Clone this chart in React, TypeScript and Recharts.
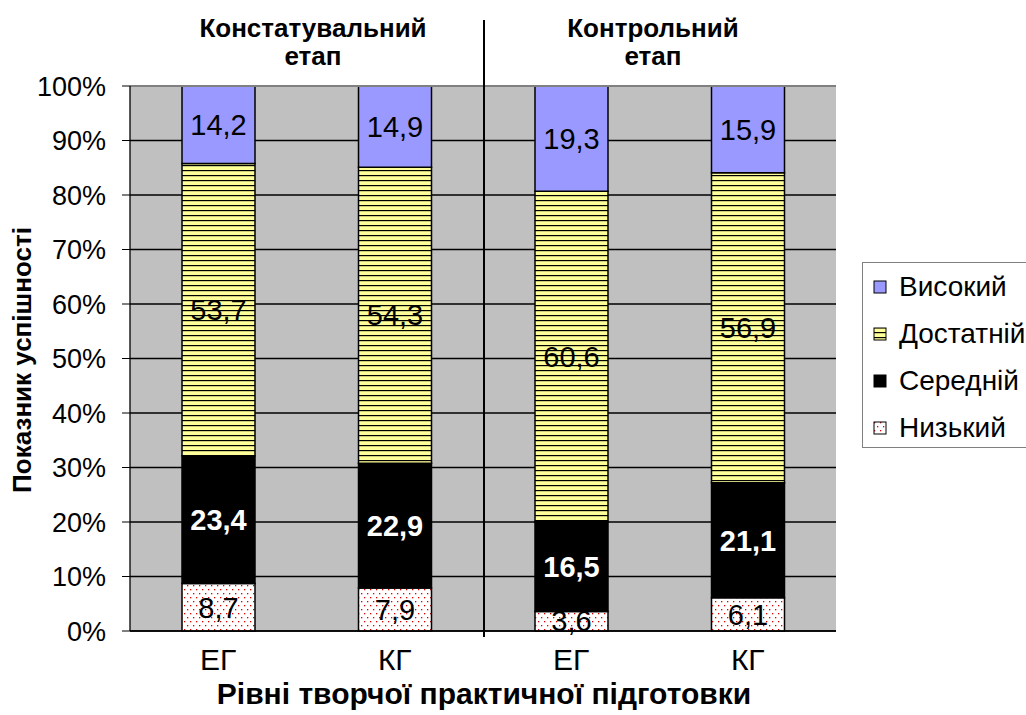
import React from 'react';
import { BarChart, Bar, XAxis, YAxis, CartesianGrid, LabelList, ReferenceLine, Legend } from 'recharts';

const categories = ['ЕГ', 'КГ', 'ЕГ', 'КГ'];
const lowValues = [8.7, 7.9, 3.6, 6.1];
const mediumValues = [23.4, 22.9, 16.5, 21.1];
const sufficientValues = [53.7, 54.3, 60.6, 56.9];
const highValues = [14.2, 14.9, 19.3, 15.9];
const yTicks = [0, 10, 20, 30, 40, 50, 60, 70, 80, 90, 100];
const boundaryTicks = [0, 1, 2, 3, 4];
const stageTitles = [
  ['Констатувальний', 'етап'],
  ['Контрольний', 'етап'],
];
const xTitle = 'Рівні творчої практичної підготовки';
const yTitle = 'Показник успішності';

const series = [
  { key: 'low', name: 'Низький', fill: 'url(#pDots)', label: '#000', bold: false },
  { key: 'medium', name: 'Середній', fill: '#000000', label: '#FFFFFF', bold: true },
  { key: 'sufficient', name: 'Достатній', fill: 'url(#pStripe)', label: '#000', bold: false },
  { key: 'high', name: 'Високий', fill: '#9999FF', label: '#000', bold: false },
];

const data = categories.map((c, i) => ({
  idx: i + 0.5,
  name: c,
  low: lowValues[i],
  medium: mediumValues[i],
  sufficient: sufficientValues[i],
  high: highValues[i],
}));

const FONT = "'Liberation Sans', Arial, sans-serif";
const NARROW = "'Liberation Sans Narrow', 'Arial Narrow', 'Liberation Sans', Arial, sans-serif";

const fmt = (v: any) => Number(v).toFixed(1).replace('.', ',');

const LegendBox = () => (
  <div
    style={{
      position: 'absolute',
      left: 862,
      top: 262,
      width: 190,
      height: 186,
      border: '1px solid #808080',
      background: '#fff',
      boxSizing: 'border-box',
      fontFamily: FONT,
      fontSize: 28,
      color: '#000',
    }}
  >
    {[...series].reverse().map((s, i) => (
      <div
        key={s.key}
        style={{ position: 'absolute', left: 10, top: 8 + i * 47, height: 32, display: 'flex', alignItems: 'center', whiteSpace: 'nowrap' }}
      >
        <svg width={14} height={14} style={{ marginRight: 12 }}>
          <rect x={1} y={1} width={12} height={12} fill={s.fill} stroke="#000" strokeWidth={1} />
        </svg>
        <span>{s.name}</span>
      </div>
    ))}
  </div>
);

export default function App() {
  return (
    <div style={{ position: 'absolute', left: 0, top: 0, width: 1026, height: 715, background: '#fff', fontFamily: FONT, overflow: 'hidden' }}>
      <svg width={0} height={0} style={{ position: 'absolute' }}>
        <defs>
          <pattern id="pStripe" width={8} height={5} patternUnits="userSpaceOnUse">
            <rect x={0} y={0} width={8} height={5} fill="#FFFF99" />
            <rect x={0} y={0} width={8} height={1.2} fill="#000" />
          </pattern>
          <pattern id="pDots" width={6} height={8} patternUnits="userSpaceOnUse">
            <rect x={0} y={0} width={6} height={8} fill="#FFFFFF" />
            <rect x={1} y={1} width={1.3} height={1.3} fill="#E00000" />
            <rect x={4} y={5} width={1.3} height={1.3} fill="#E00000" />
          </pattern>
        </defs>
      </svg>

      <BarChart
        width={1026}
        height={715}
        data={data}
        margin={{ top: 86, right: 190, left: 30, bottom: 44 }}
        barCategoryGap={0}
      >
        <CartesianGrid vertical={false} stroke="#000" strokeWidth={1.3} fill="#C0C0C0" fillOpacity={1} />
        <XAxis
          xAxisId="b"
          type="number"
          dataKey="idx"
          domain={[0, 4]}
          ticks={boundaryTicks}
          height={0}
          axisLine={false}
          tickLine={{ stroke: '#000', strokeWidth: 1 }}
          tickSize={6}
          tick={() => <g />}
          allowDataOverflow
        />
        <XAxis
          dataKey="name"
          height={40}
          tickLine={false}
          tickSize={0}
          tickMargin={18}
          axisLine={{ stroke: '#000', strokeWidth: 1.3 }}
          tick={{ fill: '#000', fontSize: 30, fontFamily: NARROW }}
          interval={0}
        />
        <YAxis
          width={100}
          domain={[0, 100]}
          ticks={yTicks}
          tickFormatter={(v: number) => `${v}%`}
          tickSize={8}
          tickMargin={16}
          axisLine={{ stroke: '#000', strokeWidth: 1.3 }}
          tickLine={{ stroke: '#000' }}
          tick={{ fill: '#000', fontSize: 27, fontFamily: FONT }}
          interval={0}
        />
        <YAxis
          yAxisId="r"
          orientation="right"
          width={0}
          domain={[0, 100]}
          tick={false}
          tickLine={false}
          axisLine={{ stroke: '#808080', strokeWidth: 2 }}
        />
        <ReferenceLine y={100} stroke="#808080" strokeWidth={2} />
        {series.map((s) => (
          <Bar
            key={s.key}
            dataKey={s.key}
            name={s.name}
            stackId="a"
            fill={s.fill}
            stroke="#000"
            strokeWidth={1.5}
            barSize={73}
            isAnimationActive={false}
          >
            <LabelList
              dataKey={s.key}
              position="center"
              formatter={fmt}
              fill={s.label}
              fontSize={29}
              fontWeight={s.bold ? 'bold' : 'normal'}
              fontFamily={FONT}
            />
          </Bar>
        ))}
        <Legend content={() => <LegendBox />} wrapperStyle={{ left: 0, top: 0, width: 0, height: 0 }} />
      </BarChart>

      <div style={{ position: 'absolute', left: 483, top: 20, width: 2, height: 617, background: '#000' }} />

      {stageTitles.map((t, i) => (
        <div
          key={i}
          style={{
            position: 'absolute',
            left: i === 0 ? 199 : 539,
            top: 14,
            width: 228,
            textAlign: 'center',
            fontWeight: 'bold',
            fontSize: 26,
            lineHeight: '28px',
            color: '#000',
          }}
        >
          {t[0]}
          <br />
          {t[1]}
        </div>
      ))}

      <div
        style={{
          position: 'absolute',
          left: 184,
          top: 679,
          width: 600,
          textAlign: 'center',
          fontWeight: 'bold',
          fontSize: 30,
          lineHeight: '30px',
          color: '#000',
          whiteSpace: 'nowrap',
        }}
      >
        {xTitle}
      </div>

      <div
        style={{
          position: 'absolute',
          left: 22 - 150,
          top: 360 - 15,
          width: 300,
          height: 30,
          lineHeight: '30px',
          textAlign: 'center',
          fontWeight: 'bold',
          fontSize: 26,
          transform: 'rotate(-90deg)',
          color: '#000',
        }}
      >
        {yTitle}
      </div>
    </div>
  );
}
